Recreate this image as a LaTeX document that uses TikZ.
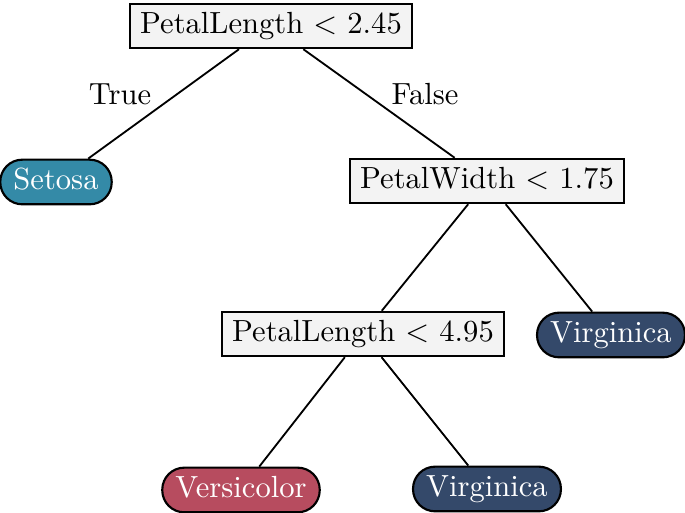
\documentclass[tikz,border=0pt]{standalone}
\usepackage{tikz}
\usetikzlibrary{positioning}

\definecolor{setosaC}{RGB}{52,138,167}
\definecolor{versiC}{RGB}{183,76,95}
\definecolor{virgiC}{RGB}{52,73,106}
\definecolor{splitC}{RGB}{243,243,243}

\begin{document}
\begin{tikzpicture}[
  x=0.327pt, y=-0.327pt,
  split/.style={rectangle, draw=black, line width=0.7pt, fill=splitC,
    text height=6.94pt, text depth=1.94pt, inner xsep=3.4pt, inner ysep=2.8pt},
  leaf/.style={rectangle, rounded corners=7.2pt, draw=black, line width=0.7pt,
    text=white, text height=6.94pt, text depth=1.94pt,
    minimum height=14.6pt, inner xsep=4.3pt, inner ysep=2.8pt},
  setosa/.style={leaf, fill=setosaC},
  versi/.style={leaf, fill=versiC},
  virgi/.style={leaf, fill=virgiC},
  edge/.style={line width=0.6pt, black},
  lbl/.style={inner sep=1pt},
]
  \useasboundingbox (0,0) rectangle (685,513);

  % --- split nodes ---
  \node[split] (root) at (271,26) {PetalLength $<$ 2.45};
  \node[split] (pw)   at (487,181) {PetalWidth $<$ 1.75};
  \node[split] (pl)   at (363,334) {PetalLength $<$ 4.95};

  % --- leaves ---
  \node[setosa] (set)  at (56,182)  {Setosa};
  \node[virgi]  (vir1) at (611,335) {Virginica};
  \node[versi]  (ver)  at (241,490) {Versicolor};
  \node[virgi]  (vir2) at (487,489) {Virginica};

  % --- branches ---
  \draw[edge] (root) -- (set);
  \draw[edge] (root) -- (pw);
  \draw[edge] (pw) -- (pl);
  \draw[edge] (pw) -- (vir1);
  \draw[edge] (pl) -- (ver);
  \draw[edge] (pl) -- (vir2);

  % --- branch labels ---
  \node[lbl] (ltrue)  at (120,94) {True};
  \node[lbl] (lfalse) at (425,94) {False};
\end{tikzpicture}
\end{document}
